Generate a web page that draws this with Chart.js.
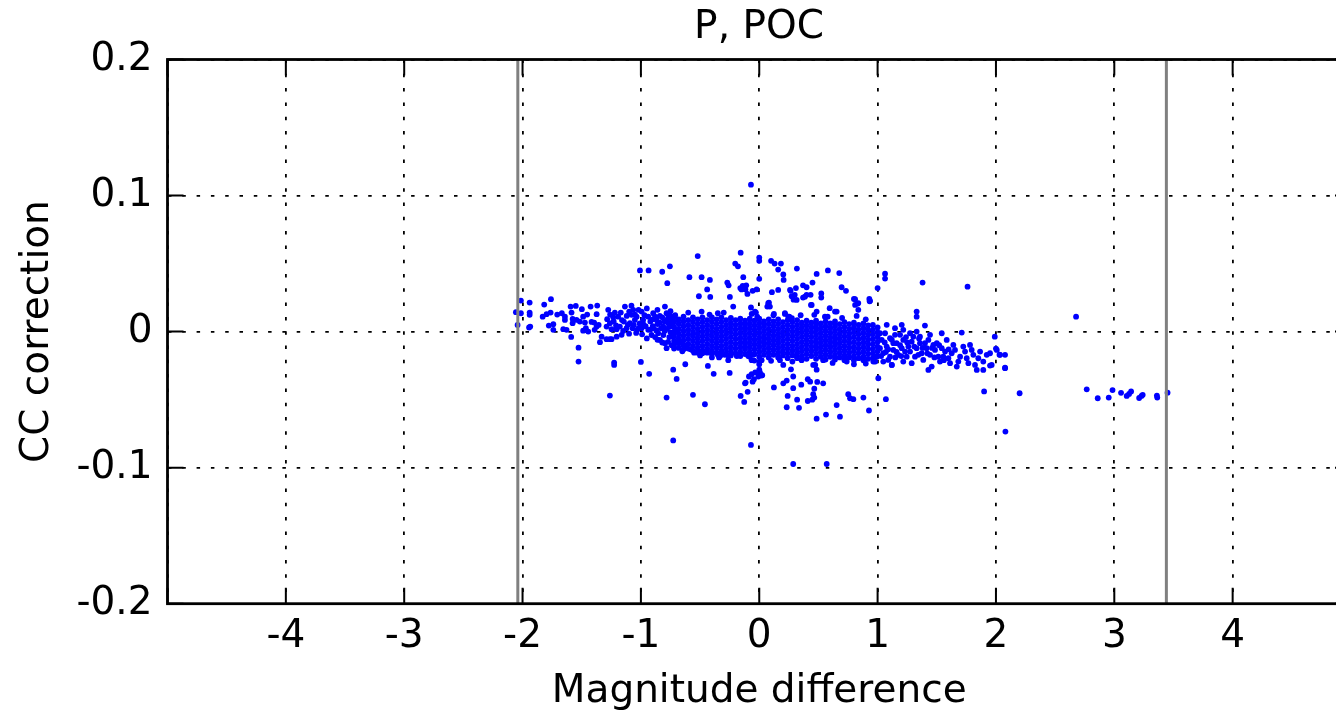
<!DOCTYPE html>
<html>
<head>
<meta charset="utf-8">
<title>P, POC</title>
<script src="https://cdn.jsdelivr.net/npm/chart.js@4.4.1/dist/chart.umd.min.js"></script>
<style>
  html, body { margin: 0; padding: 0; background: #fff; overflow: hidden; }
  #wrap { width: 1518px; height: 712px; position: relative; }
</style>
</head>
<body>
<div id="wrap"><canvas id="cc"></canvas></div>
<script>
// x = magnitude difference, y = CC correction

const xTickValues = [-5, -4, -3, -2, -1, 0, 1, 2, 3, 4, 5];
const yTickValues = [-0.2, -0.1, 0, 0.1, 0.2];
const limitLines = [-2.04, 3.44];

// sparse left part of the band, near the grey limit line up to about -0.7
const bandLeft = [
  [-2.056, 0.0143], [-2.014, 0.0228], [-2.014, 0.0135], [-2.042, 0.0049],
  [-1.94, 0.0213], [-1.94, 0.014], [-1.94, 0.0123], [-1.945, 0.003], [-1.935, 0.0037],
  [-1.817, 0.0199], [-1.76, 0.0238], [-1.83, 0.011], [-1.797, 0.0128], [-1.763, 0.014],
  [-1.778, 0.0044], [-1.74, 0.0054], [-1.74, 0.0013], [-1.707, 0.0125],
  [-1.668, 0.0135], [-1.642, 0.011], [-1.642, 0.0086], [-1.656, 0.0018], [-1.628, 0.0013],
  [-1.594, 0.0184], [-1.55, 0.0189], [-1.586, 0.014], [-1.577, 0.0093], [-1.544, 0.0086],
  [-1.577, 0.0062], [-1.589, -0.0039],
  [-1.499, 0.0165], [-1.488, 0.011], [-1.454, 0.0125], [-1.516, 0.0074], [-1.473, 0.0066],
  [-1.465, 0.0025], [-1.445, 0], [-1.488, 0.0007],
  [-1.425, 0.0184], [-1.369, 0.0191], [-1.374, 0.0128], [-1.417, 0.0071], [-1.395, 0.0066],
  [-1.374, 0.0037], [-1.357, 0.0049], [-1.391, 0.0013], [-1.332, -0.0037], [-1.346, -0.0078],
  [-1.276, 0.016], [-1.285, 0.0091], [-1.262, 0.0062], [-1.22, 0.014], [-1.234, 0.0106],
  [-1.192, 0.011], [-1.29, 0.0037], [-1.248, 0.0018], [-1.205, 0.0018], [-1.29, -0.0056],
  [-1.248, -0.0056], [-1.205, -0.0037], [-1.163, -0.0024], [-1.178, 0.0037], [-1.144, 0.0074],
  [-1.135, 0.0184], [-1.099, 0.0147], [-1.079, 0.0123], [-1.065, 0.016], [-1.051, 0.0086],
  [-1.093, 0.0062], [-1.121, 0.0025], [-1.07, 0.0025], [-1.031, 0.0013], [-1.036, 0.011],
  [-0.994, 0.0147], [-0.981, 0.0086], [-0.994, 0.0025],
  [-0.938, 0.011], [-0.896, 0.0135], [-0.867, 0.0086], [-0.938, 0.0013], [-0.896, 0.0025],
  [-0.854, -0.0012], [-0.811, 0.0037], [-0.797, 0.0184], [-0.783, 0.0135], [-0.769, 0.0062],
  [-0.839, -0.0061], [-0.797, -0.0085], [-0.783, -0.0122], [-0.727, 0.011], [-0.727, 0.0037],
  [-0.698, 0.0013], [-0.727, -0.0037], [-0.685, 0.0086],
  [-1.26, 0.0125], [-1.23, 0.0075], [-1.21, 0.0045], [-1.17, 0.014], [-1.16, 0.0085],
  [-1.15, 0.0005], [-1.12, 0.0115], [-1.11, 0.005], [-1.10, -0.0015], [-1.08, 0.019],
  [-1.06, 0.005], [-1.05, 0.0125], [-1.04, -0.001], [-1.02, 0.016], [-1.01, 0.006],
  [-0.99, -0.002], [-0.97, 0.012], [-0.96, 0.004], [-0.95, 0.017], [-0.92, 0.0075],
  [-0.91, -0.0025], [-0.90, 0.004], [-0.88, 0.011], [-0.87, 0.001], [-0.86, 0.016],
  [-0.84, 0.0065], [-0.83, 0.0025], [-0.82, 0.0105], [-0.81, -0.0025], [-0.80, 0.0075],
  [-0.78, 0.002], [-0.77, 0.01], [-0.76, -0.004], [-0.75, 0.015], [-0.74, 0.006],
  [-0.82, -0.008], [-0.88, -0.004], [-0.95, -0.005], [-0.70, -0.008], [-0.71, 0.012],
  [-0.90, 0.009], [-0.86, 0.0055], [-0.84, 0.0115], [-0.80, 0.0005], [-0.78, 0.0085],
  [-0.76, 0.0035], [-0.75, -0.0005], [-0.74, 0.0095], [-0.77, -0.0075], [-0.74, -0.01],
  [-0.86, -0.006], [-0.92, 0.0015], [-0.98, 0.0055], [-1.02, 0.0025], [-0.76, 0.0125]
];

// dense core of the band: one x per column, the CC values stacked in it
const coreX = [
  -0.72, -0.68, -0.64, -0.60, -0.56, -0.52, -0.48, -0.44, -0.40, -0.36, -0.32,
  -0.28, -0.24, -0.20, -0.16, -0.12, -0.08, -0.04, 0.00, 0.04, 0.08, 0.12,
  0.16, 0.20, 0.24, 0.28, 0.32, 0.36, 0.40, 0.44, 0.48, 0.52, 0.56,
  0.60, 0.64, 0.68, 0.72, 0.76, 0.80, 0.84, 0.88, 0.92, 0.96, 1.00
];
const coreY = [
  [0.0105, 0.007, 0.0035, 0, -0.0035, -0.007, -0.0105, -0.0125],
  [0.009, 0.0055, 0.002, -0.0015, -0.005, -0.0085, -0.012],
  [0.011, 0.0075, 0.004, 0.0005, -0.003, -0.0065, -0.01, -0.013],
  [0.0085, 0.005, 0.0015, -0.002, -0.0055, -0.009, -0.0125],
  [0.0105, 0.007, 0.0035, 0, -0.0035, -0.007, -0.0105, -0.014],
  [0.009, 0.0055, 0.002, -0.0015, -0.005, -0.0085, -0.012, -0.0145],
  [0.0105, 0.007, 0.0035, 0, -0.0035, -0.007, -0.0105, -0.014, -0.016],
  [0.0085, 0.005, 0.0015, -0.002, -0.0055, -0.009, -0.0125, -0.0155],
  [0.0105, 0.007, 0.0035, 0, -0.0035, -0.007, -0.0105, -0.014, -0.0165],
  [0.009, 0.0055, 0.002, -0.0015, -0.005, -0.0085, -0.012, -0.0155],
  [0.0105, 0.007, 0.0035, 0, -0.0035, -0.007, -0.0105, -0.014, -0.017],
  [0.0085, 0.005, 0.0015, -0.002, -0.0055, -0.009, -0.0125, -0.016],
  [0.01, 0.0065, 0.003, -0.0005, -0.004, -0.0075, -0.011, -0.0145, -0.0175],
  [0.0085, 0.005, 0.0015, -0.002, -0.0055, -0.009, -0.0125, -0.016],
  [0.0095, 0.006, 0.0025, -0.001, -0.0045, -0.008, -0.0115, -0.015, -0.018],
  [0.008, 0.0045, 0.001, -0.0025, -0.006, -0.0095, -0.013, -0.0165],
  [0.0095, 0.006, 0.0025, -0.001, -0.0045, -0.008, -0.0115, -0.015, -0.0185],
  [0.008, 0.0045, 0.001, -0.0025, -0.006, -0.0095, -0.013, -0.0165],
  [0.0095, 0.006, 0.0025, -0.001, -0.0045, -0.008, -0.0115, -0.015, -0.0185],
  [0.0075, 0.004, 0.0005, -0.003, -0.0065, -0.01, -0.0135, -0.017],
  [0.009, 0.0055, 0.002, -0.0015, -0.005, -0.0085, -0.012, -0.0155, -0.019],
  [0.0075, 0.004, 0.0005, -0.003, -0.0065, -0.01, -0.0135, -0.017],
  [0.009, 0.0055, 0.002, -0.0015, -0.005, -0.0085, -0.012, -0.0155, -0.019],
  [0.007, 0.0035, 0, -0.0035, -0.007, -0.0105, -0.014, -0.0175],
  [0.0085, 0.005, 0.0015, -0.002, -0.0055, -0.009, -0.0125, -0.016, -0.0195],
  [0.007, 0.0035, 0, -0.0035, -0.007, -0.0105, -0.014, -0.0175],
  [0.0085, 0.005, 0.0015, -0.002, -0.0055, -0.009, -0.0125, -0.016, -0.0195],
  [0.0065, 0.003, -0.0005, -0.004, -0.0075, -0.011, -0.0145, -0.018],
  [0.008, 0.0045, 0.001, -0.0025, -0.006, -0.0095, -0.013, -0.0165, -0.02],
  [0.0065, 0.003, -0.0005, -0.004, -0.0075, -0.011, -0.0145, -0.018],
  [0.008, 0.0045, 0.001, -0.0025, -0.006, -0.0095, -0.013, -0.0165, -0.02],
  [0.006, 0.0025, -0.001, -0.0045, -0.008, -0.0115, -0.015, -0.0185],
  [0.0075, 0.004, 0.0005, -0.003, -0.0065, -0.01, -0.0135, -0.017, -0.0205],
  [0.006, 0.0025, -0.001, -0.0045, -0.008, -0.0115, -0.015, -0.0185],
  [0.0075, 0.004, 0.0005, -0.003, -0.0065, -0.01, -0.0135, -0.017, -0.0205],
  [0.0055, 0.002, -0.0015, -0.005, -0.0085, -0.012, -0.0155, -0.019],
  [0.007, 0.0035, 0, -0.0035, -0.007, -0.0105, -0.014, -0.0175, -0.021],
  [0.0055, 0.002, -0.0015, -0.005, -0.0085, -0.012, -0.0155, -0.019],
  [0.0065, 0.003, -0.0005, -0.004, -0.0075, -0.011, -0.0145, -0.018, -0.021],
  [0.005, 0.0015, -0.002, -0.0055, -0.009, -0.0125, -0.016, -0.0195],
  [0.006, 0.0025, -0.001, -0.0045, -0.008, -0.0115, -0.015, -0.0185, -0.021],
  [0.0045, 0.001, -0.0025, -0.006, -0.0095, -0.013, -0.0165, -0.02],
  [0.005, 0.0015, -0.002, -0.0055, -0.009, -0.0125, -0.016, -0.0195],
  [0.003, -0.0005, -0.004, -0.0075, -0.011, -0.0145, -0.018]
];

// ragged edges just above / below the core
const coreEdges = [
  [-0.487, 0.0147], [-0.064, 0.013], [-0.036, 0.0147], [-0.017, 0.011], [0.076, 0.0209],
  [0.09, 0.0184], [0.217, 0.0135], [0.245, 0.011], [0.316, 0.0233], [0.30, 0.027],
  [0.26, 0.0307], [0.386, 0.0257], [0.40, 0.027], [0.443, 0.0196], [0.485, 0.0147],
  [0.555, 0.011], [0.64, 0.0147], [-0.22, 0.0184], [-0.07, 0.0177], [-0.028, 0.014],
  [0.81, 0.0238], [0.81, 0.0196], [0.837, 0.021], [0.837, 0.016], [0.823, 0.0115],
  [0.936, 0.0226], [-0.60, 0.014], [-0.35, 0.0135], [-0.30, 0.014], [0.12, 0.012],
  [0.35, 0.012], [0.70, 0.010], [0.90, 0.009], [-0.42, 0.0125],
  [-0.332, -0.018], [-0.29, -0.017], [-0.262, -0.021], [-0.19, -0.018], [-0.093, -0.018],
  [-0.064, -0.021], [-0.05, -0.017], [0.175, -0.021], [0.203, -0.0245], [0.316, -0.018],
  [0.358, -0.021], [0.456, -0.0245], [0.485, -0.028], [0.54, -0.021], [0.724, -0.0196],
  [0.739, -0.022], [-0.5, -0.0175], [-0.55, -0.0155], [-0.65, -0.0145], [-0.40, -0.019],
  [0.02, -0.021], [0.10, -0.0215], [0.28, -0.022], [0.62, -0.023], [0.80, -0.024],
  [0.90, -0.0235], [0.98, -0.022], [-0.35, -0.017], [-0.34, -0.019], [-0.26, -0.0178],
  [-0.18, -0.0174], [-0.67, -0.008], [-0.62, -0.0105], [-0.58, -0.013], [-0.52, -0.0155],
  [0, -0.028], [-0.008, -0.033]
];

// right part of the band, thinning out towards 2
const bandRight = [
  [1.077, 0.005], [1.147, 0.0025], [1.204, 0.005], [1.217, 0.0013], [1.274, -0.0012],
  [1.33, 0], [1.358, -0.0037], [1.443, -0.0024], [1.542, -0.0012], [1.711, -0.0007],
  [1.99, -0.0037], [1.40, 0.0044],
  [1.02, -0.0122], [1.048, -0.0159], [1.077, -0.011], [1.105, -0.0184], [1.133, -0.0135],
  [1.161, -0.0085], [1.175, -0.0171], [1.204, -0.0122], [1.217, -0.0061], [1.246, -0.0184],
  [1.26, -0.011], [1.274, -0.0147], [1.288, -0.0074], [1.316, -0.0184], [1.33, -0.0122],
  [1.358, -0.0085], [1.373, -0.0159], [1.386, -0.0208], [1.415, -0.0122], [1.429, -0.0061],
  [1.443, -0.0171], [1.457, -0.0257], [1.485, -0.0135], [1.5, -0.0085], [1.513, -0.0184],
  [1.527, -0.022], [1.542, -0.0122], [1.57, -0.0147], [1.584, -0.0061], [1.598, -0.0196],
  [1.612, -0.0232], [1.626, -0.0159], [1.654, -0.0135], [1.669, -0.0257], [1.682, -0.022],
  [1.697, -0.0184], [1.724, -0.011], [1.739, -0.0147], [1.753, -0.0196], [1.767, -0.0232],
  [1.781, -0.0098], [1.795, -0.0135], [1.809, -0.0171], [1.823, -0.0245], [1.838, -0.0282],
  [1.851, -0.0196], [1.866, -0.0147], [1.893, -0.022], [1.922, -0.0171], [1.95, -0.0159],
  [1.964, -0.0245], [2.007, -0.0135], [2.035, -0.0171], [2.077, -0.0171], [2.077, -0.0269],
  [1.893, -0.0282], [1.429, -0.0282], [1.12, -0.0245], [0.964, -0.022], [0.992, -0.0184],
  [1.035, -0.0061], [1.063, -0.0012], [1.105, -0.0049], [1.133, -0.0085], [1.19, -0.0024],
  [1.232, -0.0147], [1.302, -0.0037], [1.344, -0.0171], [1.40, -0.0085], [1.471, -0.0098],
  [1.555, -0.0184], [1.64, -0.0098], [1.048, -0.022], [1.09, -0.0208], [1.217, -0.022],
  [1.288, -0.0232], [1.02, -0.0012], [1.147, -0.0024],
  [1.06, -0.008], [1.09, -0.013], [1.12, -0.006], [1.16, -0.015], [1.19, -0.01],
  [1.24, -0.004], [1.25, -0.008], [1.31, -0.011], [1.35, -0.005], [1.38, -0.012],
  [1.42, -0.016], [1.46, -0.012], [1.48, -0.019], [1.52, -0.01], [1.56, -0.021],
  [1.60, -0.013], [1.03, -0.018], [1.07, -0.015], [1.15, -0.019], [1.20, -0.018],
  [2.0, -0.0125], [2.03, -0.017], [1.95, -0.025], [2.077, -0.0265]
];

const scatterAbove = [
  [-0.07, 0.108], [-0.52, 0.0555], [-0.157, 0.058], [-1.008, 0.045], [-0.935, 0.045],
  [-0.82, 0.044], [-0.755, 0.048], [-0.777, 0.0356], [-0.59, 0.04], [-0.487, 0.04],
  [-0.417, 0.038], [-0.44, 0.031], [-0.51, 0.026], [-0.414, 0.0255], [-0.27, 0.036],
  [-0.259, 0.034], [-0.203, 0.05], [-0.18, 0.048], [-0.135, 0.04], [-0.16, 0.032],
  [-0.14, 0.0335], [-0.11, 0.034], [-0.117, 0.031], [-0.15, 0.031], [-0.10, 0.0277],
  [-0.056, 0.03], [-0.022, 0.031], [0, 0.0544], [0, 0.052], [0, 0.0388], [-0.248, 0.0255],
  [0.10, 0.052], [0.13, 0.05], [0.183, 0.05], [0.16, 0.0456], [0.203, 0.042], [0.206, 0.038],
  [0.107, 0.029], [0.16, 0.0306], [0.265, 0.03], [0.31, 0.032], [0.318, 0.0463], [0.37, 0.034],
  [0.40, 0.0326], [0.45, 0.036], [0.485, 0.0424], [0.58, 0.045], [0.676, 0.043], [0.696, 0.0326],
  [0.733, 0.03], [0.524, 0.028], [0.524, 0.025], [0.434, 0.027], [0.37, 0.025], [0.274, 0.026],
  [0.80, 0.024], [0.93, 0.024], [1.0, 0.032], [1.063, 0.0426], [1.063, 0.039], [1.38, 0.036],
  [1.76, 0.033], [0.933, 0.0223], [0.83, 0.0205], [1.33, 0.0147], [1.33, 0.011], [0.654, 0.0147],
  [0.578, 0.011], [0.595, 0.0172], [0.465, 0.0123], [0.437, 0.0196], [0.29, 0.0235], [0.082, 0.0213],
  [0.068, 0.0184], [0.124, 0.013], [0.217, 0.013], [0.254, 0.011], [0.276, 0.0098]
];

const scatterBelow = [
  [0.268, -0.0277], [0.287, -0.033], [0.232, -0.036], [0.203, -0.038], [0.287, -0.0416],
  [0.124, -0.041], [0.24, -0.0473], [0.32, -0.05], [0.232, -0.0556], [0.336, -0.056],
  [0.41, -0.035], [0.43, -0.0368], [0.355, -0.039], [0.465, -0.042], [0.456, -0.046],
  [0.49, -0.037], [0.54, -0.038], [0.41, -0.051], [0.448, -0.05], [0.465, -0.0485],
  [0.485, -0.064], [0.564, -0.061], [0.654, -0.054], [0.682, -0.0625], [0.752, -0.046],
  [0.767, -0.049], [0.795, -0.0497], [0.88, -0.0485], [0.927, -0.058], [1.006, -0.0343],
  [1.07, -0.0497], [0.473, -0.0245], [0.287, -0.0973], [0.57, -0.0973], [1.90, -0.044],
  [2.20, -0.0453], [2.08, -0.0735], [1.12, -0.0245],
  [-1.262, -0.047], [-1.226, -0.0228], [-1.226, -0.0245], [-1.0, -0.0223], [-0.93, -0.031],
  [-0.783, -0.0485], [-0.727, -0.028], [-0.698, -0.0348], [-0.727, -0.08], [-0.625, -0.024],
  [-0.56, -0.0465], [-0.459, -0.0534], [-0.434, -0.0252], [-0.385, -0.031], [-0.25, -0.0304],
  [-0.157, -0.0473], [-0.127, -0.0517], [-0.098, -0.0443], [-0.12, -0.038], [-0.087, -0.033],
  [-0.064, -0.0313], [-0.034, -0.03], [0.006, -0.03], [-0.056, -0.0368], [-0.045, -0.035],
  [0.025, -0.032], [-0.07, -0.0833], [0, -0.022], [0, -0.024], [-0.042, -0.0213],
  [-1.527, -0.0118], [-1.527, -0.022], [-1.262, -0.0056], [-0.115, -0.0375], [0.02, -0.0323]
];

// small group at large magnitude difference
const farCluster = [
  [2.677, 0.011], [2.767, -0.0424], [2.86, -0.049], [2.953, -0.0485], [2.985, -0.043],
  [3.057, -0.045], [3.105, -0.0473], [3.125, -0.0458], [3.142, -0.044], [3.21, -0.0488],
  [3.23, -0.0473], [3.24, -0.0465], [3.36, -0.047], [3.363, -0.0485], [3.45, -0.0449]
];

const FONT = 'DejaVu Sans';
const toPoints = pairs => pairs.map(([x, y]) => ({ x, y }));
const corePoints = coreX.flatMap((x, i) => coreY[i].map(y => ({ x, y })));

const allPoints = [
  ...toPoints(bandLeft), ...corePoints, ...toPoints(coreEdges), ...toPoints(bandRight),
  ...toPoints(scatterAbove), ...toPoints(scatterBelow), ...toPoints(farCluster)
];

const limitSets = limitLines.map(v => ({
  data: [{ x: v, y: yTickValues[0] }, { x: v, y: yTickValues[yTickValues.length - 1] }],
  showLine: true,
  borderColor: '#808080',
  borderWidth: 3,
  pointRadius: 0,
  order: 0
}));

// matplotlib-like frame with inward ticks on all four sides
const frameTicks = {
  id: 'frameTicks',
  afterDatasetsDraw(chart) {
    const { ctx, chartArea: a, scales: { x, y } } = chart;
    const len = 16;
    ctx.save();
    ctx.strokeStyle = '#000';
    ctx.lineWidth = 2;
    ctx.beginPath();
    xTickValues.forEach(v => {
      const px = x.getPixelForValue(v);
      ctx.moveTo(px, a.bottom); ctx.lineTo(px, a.bottom - len);
      ctx.moveTo(px, a.top); ctx.lineTo(px, a.top + len);
    });
    yTickValues.forEach(v => {
      const py = y.getPixelForValue(v);
      ctx.moveTo(a.left, py); ctx.lineTo(a.left + len, py);
      ctx.moveTo(a.right, py); ctx.lineTo(a.right - len, py);
    });
    ctx.stroke();
    ctx.lineWidth = 2.8;
    ctx.strokeRect(a.left, a.top, a.right - a.left, a.bottom - a.top);
    ctx.restore();
  }
};

new Chart(document.getElementById('cc'), {
  type: 'scatter',
  data: {
    datasets: [
      ...limitSets,
      {
        data: allPoints,
        pointRadius: 2.9,
        pointHoverRadius: 2.9,
        pointBorderWidth: 0,
        pointBackgroundColor: '#0000ff',
        backgroundColor: '#0000ff',
        order: 1
      }
    ]
  },
  options: {
    responsive: true,
    maintainAspectRatio: false,
    animation: false,
    devicePixelRatio: 1,
    layout: { padding: 0 },
    plugins: {
      legend: { display: false },
      tooltip: { enabled: false },
      title: {
        display: true,
        text: 'P, POC',
        color: '#000',
        font: { family: FONT, size: 39, weight: 'normal' },
        padding: { top: 4, bottom: 8.7 }
      }
    },
    scales: {
      x: {
        type: 'linear',
        min: xTickValues[0],
        max: xTickValues[xTickValues.length - 1],
        afterBuildTicks: s => { s.ticks = xTickValues.map(value => ({ value })); },
        afterFit: s => { s.height = 108.3; },
        ticks: {
          color: '#000',
          font: { family: FONT, size: 39 },
          padding: 9.4,
          maxRotation: 0,
          autoSkip: false,
          callback: v => (v === xTickValues[0] || v === xTickValues[xTickValues.length - 1]) ? '' : String(v)
        },
        grid: { color: '#000', lineWidth: 1.8, drawTicks: false },
        border: { display: false, dash: [3.5, 10.8] },
        title: {
          display: true,
          text: 'Magnitude difference',
          color: '#000',
          font: { family: FONT, size: 39, weight: 'normal' },
          padding: { top: 0, bottom: -3 }
        }
      },
      y: {
        type: 'linear',
        position: 'left',
        min: yTickValues[0],
        max: yTickValues[yTickValues.length - 1],
        afterBuildTicks: s => { s.ticks = yTickValues.map(value => ({ value })); },
        afterFit: s => { s.width = 167.5; },
        ticks: {
          color: '#000',
          font: { family: FONT, size: 39 },
          padding: 15,
          callback: v => {
            const r = Math.round(v * 10) / 10;
            return r === 0 ? '0' : r.toFixed(1);
          }
        },
        grid: { color: '#000', lineWidth: 1.8, drawTicks: false },
        border: { display: false, dash: [3.5, 10.8] },
        title: {
          display: true,
          text: 'CC correction',
          color: '#000',
          font: { family: FONT, size: 39, weight: 'normal' },
          padding: { top: 14, bottom: 0 }
        }
      },
      // empty right box so the plot runs past the window edge like the reference
      y2: {
        type: 'linear',
        position: 'right',
        display: true,
        afterFit: s => { s.width = 167; },
        ticks: { display: false },
        grid: { display: false, drawTicks: false },
        border: { display: false }
      }
    }
  },
  plugins: [frameTicks]
});
</script>
</body>
</html>
